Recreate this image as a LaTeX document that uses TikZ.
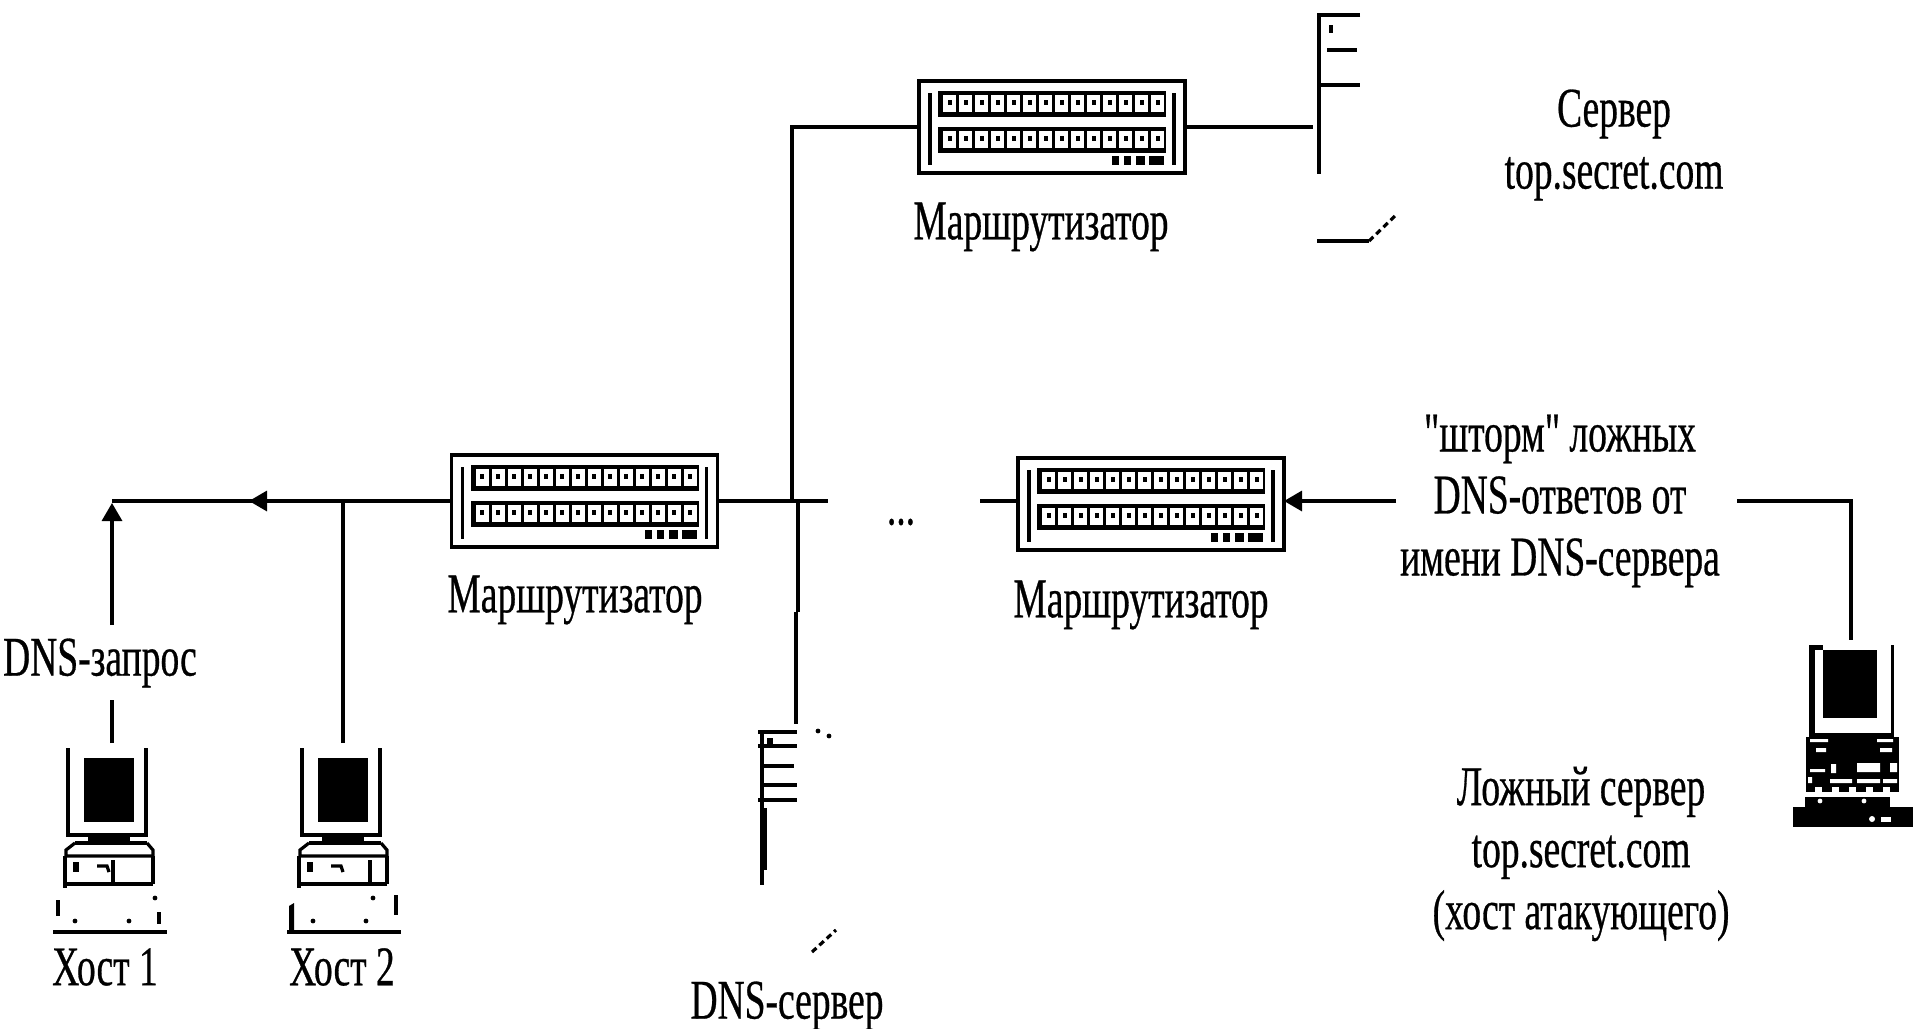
\documentclass[tikz,border=0pt]{standalone}
\usepackage{fontspec}
\setmainfont{Liberation Serif}
\newfontfamily\lblfont[FakeStretch=0.67,FakeBold=0.5]{Liberation Serif}
\usetikzlibrary{arrows.meta}
\newcommand{\routerparts}{%
  \draw[thin line] (-122,-34) -- (-122,38);
  \draw[thin line] (122,-34) -- (122,38);
  \fill (-114,-36) rectangle (114,-10);
  \fill (-114,0) rectangle (114,26);
  \foreach \i in {0,...,13}{
    \fill[white] (-109+16*\i,-32) rectangle ++(13,17);
    \fill (-104.5+16*\i,-27) rectangle ++(4,5);
    \fill[white] (-109+16*\i,4) rectangle ++(13,17);
    \fill (-104.5+16*\i,9) rectangle ++(4,5);
  }
  \fill (60,29) rectangle ++(7,9);
  \fill (72,29) rectangle ++(7,9);
  \fill (84,29) rectangle ++(9,9);
  \fill (97,29) rectangle ++(15,9);
}
\newcommand{\hostparts}[1]{%
  \draw[thin line] (-44,-42) -- (-44,45) -- (34,45) -- (34,-42);
  \fill (-28,-32) rectangle (22,32);
  \fill (-24,45) rectangle (18,55);
  \draw[thin line] (-37,53) -- (35,53);
  \draw[thin line] (-37,53) -- (-46,60) -- (-46,66) -- (40,66);
  \draw[thin line] (35,53) -- (41,60) -- (41,66);
  \draw[thin line] (-47,66) -- (-47,98);
  \draw[thin line] (-47,94) -- (41,94);
  \draw[thin line] (41,66) -- (41,94);
  \draw[thin line] (#1,70) -- (#1,94);
  \draw[thin line] (-59,142) -- (55,142);
  \draw[thin line] (-15,76) -- (-5,76) -- (-3,82);
  \fill (-39,72) rectangle ++(6,10);
}
\tikzset{
  x=0.5pt, y=-0.5pt,
  thin line/.style={line width=1.6pt},
  wire/.style={line width=1.6pt},
  tip/.style={-{Triangle[length=9pt,width=10pt]}},
  routerbox/.style={draw, line width=1.8pt, minimum width=133pt, minimum height=46pt, inner sep=0pt, outer sep=0pt},
  hostbox/.style={inner sep=0pt, outer sep=0pt, minimum width=40pt, minimum height=47pt},
  label/.style={font=\lblfont\fontsize{28}{31}\selectfont, align=center, inner sep=0pt},
}
\begin{document}
\begin{tikzpicture}
\useasboundingbox (0,0) rectangle (1920,1028);
% routers
\node[routerbox] (routerL) at (584.5,501) {};
\node[routerbox] (routerT) at (1052,127) {};
\node[routerbox] (routerR) at (1151,504) {};
\begin{scope}[shift={(routerL.center)}]\routerparts\end{scope}
\begin{scope}[shift={(routerT.center)}]\routerparts\end{scope}
\begin{scope}[shift={(routerR.center)}]\routerparts\end{scope}
% hosts
\node[hostbox] (host1) at (112,790) {};
\node[hostbox] (host2) at (343,790) {};
\node[inner sep=0pt, outer sep=0pt, minimum width=60pt, minimum height=95pt] (attacker) at (1851,735) {};
\begin{scope}[shift={(host1.center)}]
  \hostparts{1}
  \draw[thin line] (-54,110) -- (-54,126);
  \fill (-37,131) circle (1.2pt) (17,131) circle (1.2pt) (43,108) circle (1.2pt);
  \draw[thin line] (47,122) -- (47,134);
\end{scope}
\begin{scope}[shift={(host2.center)}]
  \begin{scope}[xshift=1.5pt]\hostparts{24}\end{scope}
  \fill (-54,116) -- (-49,113) -- (-49,140) -- (-54,140) -- cycle;
  \fill (-30,131) circle (1.2pt) (23,131) circle (1.2pt) (30,108) circle (1.2pt);
  \draw[thin line] (53,105) -- (53,125);
\end{scope}
% attacker computer
\begin{scope}[shift={(attacker.center)}]
  \fill (-42,-90) rectangle (-36,0);
  \fill (-42,-90) rectangle (-28,-85);
  \fill (40,-90) rectangle (43,0);
  \fill (-42,-2) rectangle (43,2);
  \fill (-28,-85) rectangle (26,-17);
  \fill (-45,2) rectangle (48,57);
  \fill (-46,62) rectangle (39,72);
  \fill (-58,72) rectangle (62,92);
  \fill[white]
    (-41,4) rectangle (-23,7) (26,4) rectangle (42,7)
    (-35,13) rectangle (-25,17) (29,13) rectangle (41,17)
    (-41,34) rectangle (-26,37) (-20,29) rectangle (-15,38)
    (6,28) rectangle (29,37) (39,28) rectangle (46,37)
    (-21,44) rectangle (1,48) (6,44) rectangle (29,48) (32,44) rectangle (46,48)
    (-43,42) rectangle (-39,48);
  \foreach \i in {0,...,4}{\fill[white] (-36+17*\i,52) rectangle ++(7,6);}
  \fill[white] (-31,66) circle (1.2pt) (13,66) circle (1.2pt) (21,84) circle (1.5pt);
  \fill[white] (30,82) rectangle ++(10,5);
\end{scope}
% top server
\node[inner sep=0pt, outer sep=0pt, minimum width=20pt, minimum height=80pt] (serverT) at (1319,94) {};
\draw[thin line] (1360,15) -- (1319,15) -- (1319,174);
\draw[thin line] (1327,50) -- (1357,50);
\draw[thin line] (1319,85) -- (1360,85);
\draw[thin line] (1331,25) -- (1331,33);
\draw[thin line] (1317,241) -- (1369,241);
\draw[thin line, densely dashed] (1369,241) -- (1396,215);
% DNS server
\node[inner sep=0pt, outer sep=0pt, minimum width=20pt, minimum height=2pt] (serverD) at (796,726) {};
\draw[thin line] (758,732) -- (797,732);
\draw[thin line] (758,746) -- (797,746);
\draw[thin line] (763,766) -- (794,766);
\draw[thin line] (763,785) -- (797,785);
\draw[thin line] (758,800) -- (797,800);
\draw[thin line] (762,732) -- (762,885);
\fill (761,808) rectangle (767,870);
\fill (767,738) rectangle (773,746);
\fill (818,731) circle (1.2pt) (829,736) circle (1.2pt);
\draw[thin line, densely dashed] (812,952) -- (836,930);
% junctions
\coordinate (leftEnd) at (112,501);
\coordinate (leftTip) at (249,501);
\coordinate (upTip) at (112,503);
\coordinate (upGap) at (112,625);
\coordinate (upResume) at (112,700);
\coordinate (rightStub) at (828,501);
\coordinate (topBranch) at (792,501);
\coordinate (topCorner) at (792,127);
\coordinate (dnsBranch) at (798,501);
\coordinate (dnsKink) at (798,612);
\coordinate (dnsKink2) at (796,612);
\coordinate (rStub) at (980,501);
\coordinate (stormStart) at (1396,501);
\coordinate (atkCorner) at (1851,501);
\coordinate (atkStart) at (1737,501);
\coordinate (host2Top) at (343,501);
\coordinate (srvStub) at (1313,127);
% connectors
\draw[wire] (routerL.west) -- (leftEnd);
\draw[wire,tip] (routerL.west) -- (leftTip);
\draw[wire,tip] (upGap) -- (upTip);
\draw[wire] (host1.north) -- (upResume);
\draw[wire] (host2.north) -- (host2Top);
\draw[wire] (routerL.east) -- (rightStub);
\draw[wire] (topBranch) -- (topCorner) -- (routerT.west);
\draw[wire] (routerT.east) -- (srvStub);
\draw[wire] (dnsBranch) -- (dnsKink);
\draw[wire] (dnsKink2) -- (serverD.north);
\draw[wire] (rStub) -- (routerR.west |- rStub);
\draw[wire,tip] (stormStart) -- (routerR.east |- stormStart);
\draw[wire] (atkStart) -- (atkCorner) -- (attacker.north);
% labels
\node[label] (lblRL) at (575,600) {Маршрутизатор};
\node[label] (lblRT) at (1041,227) {Маршрутизатор};
\node[label] (lblRR) at (1141,605) {Маршрутизатор};
\node[label] (lblQ) at (100,663) {DNS-запрос};
\node[label] (lblH1) at (105,967) {Хост 1};
\node[label] (lblH2) at (342,967) {Хост 2};
\node[label] (lblD) at (787,1006) {DNS-сервер};
\node[label] (lblS) at (1614,145) {Сервер\\top.secret.com};
\node[label] (lblStorm) at (1560,501) {"шторм" ложных\\DNS-ответов от\\имени DNS-сервера};
\node[label] (lblFake) at (1581,854) {Ложный сервер\\top.secret.com\\(хост атакующего)};
\node[label] (lblDots) at (901,522) {...};
\end{tikzpicture}
\end{document}
